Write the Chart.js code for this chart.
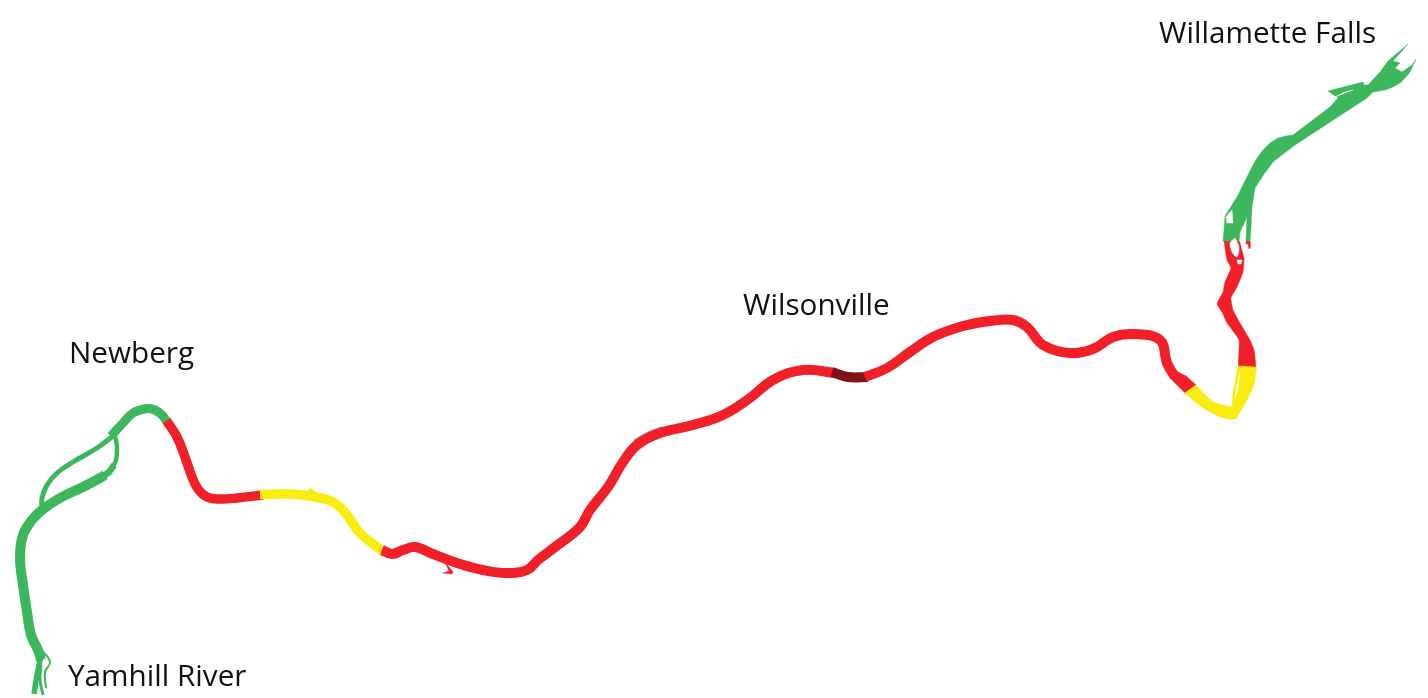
<!DOCTYPE html>
<html>
<head>
<meta charset="utf-8">
<title>Willamette River</title>
<script src="https://cdn.jsdelivr.net/npm/chart.js@4"></script>
<style>
    html, body { margin: 0; padding: 0; background: #fff; }
    #wrap { width: 1428px; height: 698px; }
</style>
</head>
<body>
<div id="wrap"><canvas id="riverChart"></canvas></div>
<script>
// river stretches as [river x, river y]
const yamhillTrunk = [[41,660],[38,650],[31,635],[27,612],[23,585],[20,558],[23,535],[32,520],[42,510],[60,498],[83,487],[100,478],[105,475]];
const loopTaper = [[100,478],[109,472],[114,465]];
const loopRight = [[112,468],[116,460],[117,450],[116,440],[113,431]];
const loopLeft = [[42,510],[42,498],[47,485],[57,473],[73,462],[97,448],[113,436]];
const newbergBend = [[111,436],[123,423],[133,413],[147,408.5],[155,410],[162,415],[169,425]];
const mouthWest = [[41,656],[37,675],[34,694]];
const mouthEast = [[41,665],[40,680],[43,695]];
const mouthLoop = [[42,650],[50,662],[45,672],[46,688]];

const red1 = [[166.5,420.5],[177,437],[185,457],[192,477],[198,489],[207,497],[220,499],[237,498],[263,495]];
const yellow1 = [[260,494.5],[290,494],[310,496],[333,502],[347,515],[360,533],[385,553]];
const yellow1Spur = [[305,496],[310,488],[316,492],[320,497]];
const red2 = [[382,550],[392,554],[403,550],[415,547],[433,554],[457,563],[483,570],[507,573],[527,570],[538,560],[555,547],[580,527],[590,510],[608,487],[623,462],[637,445],[660,433],[693,425],[723,415],[750,398],[773,380],[803,370],[835,373]];
const red2Spur = [[445,562],[453,572],[452,574],[443,573],[449,571]];
const greySliver = [[636,444],[650,436],[664,431]];
const darkRed = [[832,372],[848,377],[868,377]];
const red3 = [[865,377],[887,368],[910,352],[933,337],[963,326],[990,321],[1013,320],[1027,327],[1043,345],[1070,353],[1093,349],[1113,337],[1133,334],[1160,340],[1167,363],[1175,377]];
const red3End = [[1160,342],[1165,342],[1170,362],[1176,371],[1186,376],[1196,385],[1185,393],[1172,380],[1166,370]];

const yellow2 = [[1185,393],[1194,401],[1203,408],[1212,413],[1220,417],[1228,419],[1236,419],[1247,400],[1252,390],[1255,380],[1256,367],[1238,366],[1233,393],[1232,407],[1222,405],[1213,402],[1204,394],[1196,385]];
const yellow2Island = [[1240,372],[1237,385],[1235,398],[1238,388]];

const redUpper = [[1224,241],[1227,260],[1231,268],[1225,282],[1223,292],[1217,304],[1222,312],[1227,323],[1239,340],[1239,369],[1256,369],[1256,367],[1254,350],[1250,340],[1240,323],[1233,310],[1231,298],[1237,287],[1243,272],[1244,258],[1242,251],[1239,241]];
const redUpperIsland = [[1235,238],[1239,247],[1237,257],[1232,252],[1230,243]];
const redUpperHole = [[1237,260],[1242,260],[1241,264],[1238,264]];
const redTip = [[1246,241],[1250,241],[1250,248],[1249,249],[1248,244],[1246,244]];

const fallsReach = [[1223,241],[1224,230],[1225,216],[1237,197],[1245,181],[1252,167],[1257,158],[1263,150],[1270,143],[1278,138],[1286,136],[1293,135],[1330,107],[1338,98],[1328,91],[1363,82],[1364,85],[1368,85],[1380,72],[1388,61],[1408,44],[1393,61],[1400,63],[1395,68],[1402,72],[1412,65],[1416,59],[1410,72],[1405,78],[1400,83],[1393,87],[1385,90],[1373,92],[1367,98],[1295,145],[1283,154],[1273,162],[1264,174],[1255,188],[1252,207],[1251,227],[1250,241],[1246,241],[1247,217],[1240,232],[1239,241]];
const fallsIslandA = [[1232,210],[1233,223],[1227,223],[1226,217]];
const fallsSlit = [[1335,97],[1345,92],[1353,90],[1345,93]];

const labelNames = ['Willamette Falls', 'Wilsonville', 'Newberg', 'Yamhill River'];
const labelX = [1159, 743, 69, 68];
const labelY = [35, 307, 355, 678];

const GREEN = '#3cb75b';
const RED = '#f12028';
const YELLOW = '#f9ed0f';
const DARK = '#7f1418';

function toXY(points) {
    return points.map(p => ({ x: p[0], y: p[1] }));
}

function stroke(points, color, width) {
    return {
        data: toXY(points),
        borderColor: color,
        borderWidth: width,
        borderCapStyle: 'butt',
        borderJoinStyle: 'round',
        tension: 0.4,
        fill: false
    };
}

function shape(points, color, tension = 0) {
    return {
        data: toXY(points.concat([points[0]])),
        borderColor: color,
        backgroundColor: color,
        borderWidth: 0.5,
        tension: tension,
        fill: 'shape'
    };
}

// later entries paint over earlier ones
const layers = [
    stroke(greySliver, '#9a9a9a', 10),
    stroke(yamhillTrunk, GREEN, 10),
    stroke(loopTaper, GREEN, 6.5),
    stroke(loopRight, GREEN, 4.5),
    stroke(loopLeft, GREEN, 5),
    stroke(newbergBend, GREEN, 9),
    stroke(mouthWest, GREEN, 5.5),
    stroke(mouthEast, GREEN, 3),
    stroke(mouthLoop, GREEN, 2),
    stroke(red1, RED, 9.5),
    stroke(yellow1, YELLOW, 9.5),
    shape(yellow1Spur, YELLOW),
    stroke(red2, RED, 10),
    shape(red2Spur, RED),
    stroke(darkRed, DARK, 10),
    stroke(red3, RED, 10),
    shape(red3End, RED),
    shape(redUpper, RED, 0.15),
    shape(yellow2, YELLOW),
    shape(yellow2Island, '#ffffff'),
    shape(redTip, RED),
    shape(fallsReach, GREEN),
    shape(fallsIslandA, '#ffffff'),
    shape(fallsSlit, '#ffffff'),
    shape(redUpperIsland, '#ffffff', 0.3),
    shape(redUpperHole, '#ffffff')
];
layers.forEach((d, i) => { d.order = layers.length - i; });

const placeLabels = {
    id: 'placeLabels',
    afterDatasetsDraw(chart) {
        const c = chart.ctx;
        c.save();
        c.font = '29.7px "Open Sans"';
        c.fillStyle = '#111111';
        c.textBaseline = 'middle';
        labelNames.forEach((name, i) => {
            c.fillText(name, chart.scales.x.getPixelForValue(labelX[i]), chart.scales.y.getPixelForValue(labelY[i]));
        });
        c.restore();
    }
};

new Chart(document.getElementById('riverChart'), {
    type: 'scatter',
    data: { datasets: layers },
    options: {
        responsive: true,
        maintainAspectRatio: false,
        animation: false,
        showLine: true,
        layout: { padding: 0 },
        elements: { point: { radius: 0 } },
        plugins: { legend: { display: false }, tooltip: { enabled: false } },
        scales: {
            x: { type: 'linear', display: false, min: 0, max: 1428 },
            y: { type: 'linear', display: false, min: 0, max: 698, reverse: true }
        }
    },
    plugins: [placeLabels]
});
</script>
</body>
</html>
